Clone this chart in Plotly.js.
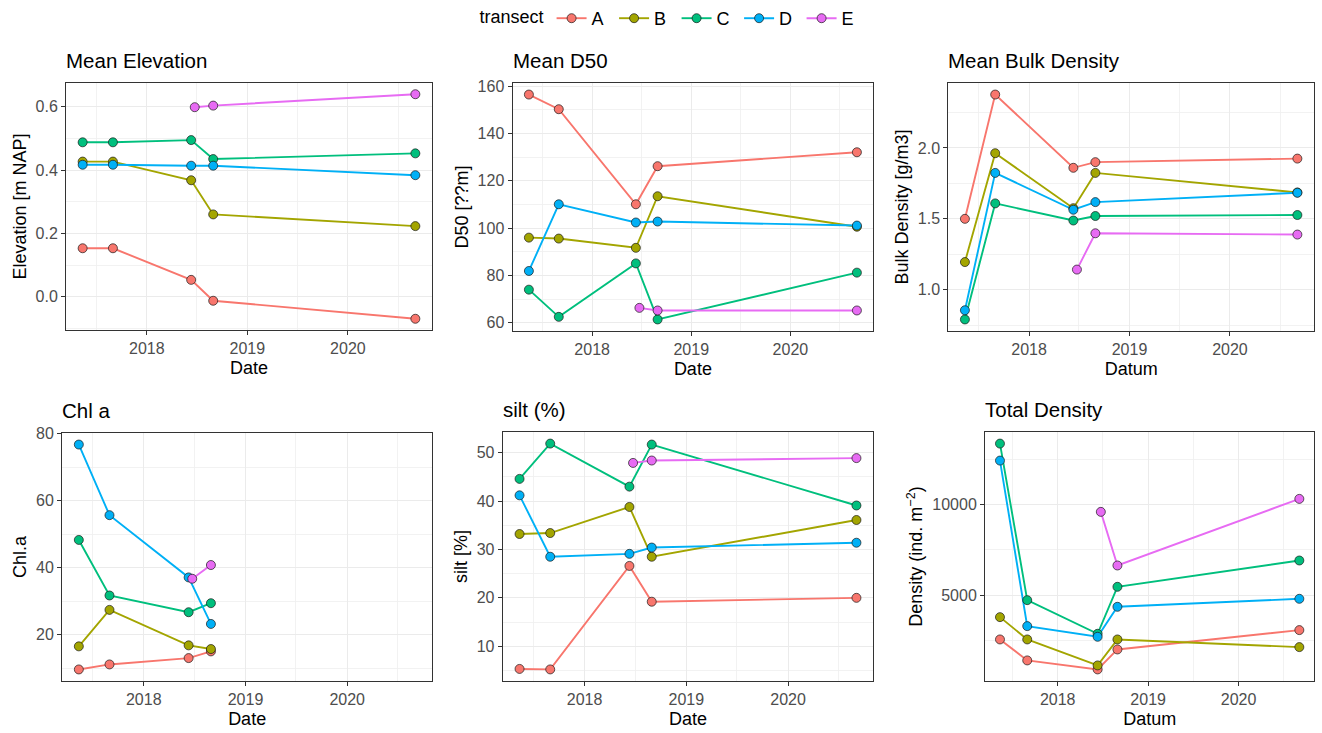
<!DOCTYPE html>
<html>
<head>
<meta charset="utf-8">
<script src="https://cdn.plot.ly/plotly-3.0.1.min.js"></script>
<style>
  html, body { margin: 0; padding: 0; background: #ffffff; }
  #chart { width: 1322px; height: 733px; }
</style>
</head>
<body>
<div id="chart"></div>
<script>
// Transects and their colours
const transects = ['A', 'B', 'C', 'D', 'E'];
const colours = ['#F8766D', '#A3A500', '#00BF7D', '#00B0F6', '#E76BF3'];

// Survey dates (transect E was first sampled later)
const surveyDates  = ['2017-05-13', '2017-08-31', '2018-06-11', '2018-08-30', '2020-09-02'];
const surveyDatesE = ['2018-06-24', '2018-08-30', '2020-09-02'];

// Mean elevation [m NAP]
const elevA = [0.153, 0.153, 0.053, -0.013, -0.070];
const elevB = [0.427, 0.427, 0.368, 0.260, 0.223];
const elevC = [0.488, 0.488, 0.495, 0.435, 0.453];
const elevD = [0.417, 0.417, 0.414, 0.414, 0.384];
const elevE = [0.599, 0.604, 0.640];

// Mean D50
const d50A = [156.5, 150.3, 110.1, 126.2, 132.1];
const d50B = [96.0, 95.6, 91.7, 113.5, 100.6];
const d50C = [74.0, 62.5, 85.1, 61.4, 81.2];
const d50D = [81.9, 110.1, 102.4, 102.8, 101.1];
const d50E = [66.3, 65.2, 65.2];

// Mean bulk density [g/m3]
const bulkA = [1.50, 2.377, 1.86, 1.90, 1.925];
const bulkB = [1.195, 1.963, 1.575, 1.824, 1.686];
const bulkC = [0.79, 1.609, 1.488, 1.52, 1.527];
const bulkD = [0.855, 1.824, 1.564, 1.618, 1.684];
const bulkE = [1.142, 1.398, 1.389];

// Chlorophyll a
const chlA = [9.6, 11.1, 13.0, 15.0];
const chlB = [16.5, 27.4, 16.8, 15.7];
const chlC = [48.3, 31.7, 26.7, 29.4];
const chlD = [76.8, 55.7, 37.1, 23.2];
const chlE = [36.7, 40.8];

// Silt [%]
const siltA = [5.3, 5.2, 26.6, 19.2, 20.0];
const siltB = [33.2, 33.4, 38.8, 28.5, 36.1];
const siltC = [44.6, 51.9, 43.0, 51.7, 39.1];
const siltD = [41.2, 28.5, 29.1, 30.4, 31.4];
const siltE = [47.9, 48.4, 48.9];

// Total macrofauna density [ind. m-2]
const densA = [2556, 1398, 902, 2004, 3071];
const densB = [3787, 2556, 1122, 2556, 2133];
const densC = [13363, 4724, 2868, 5460, 6912];
const densD = [12426, 3291, 2703, 4357, 4798];
const densE = [9596, 6637, 10312];

// Panel setup: pixel boxes of each plotting area on the 1322 x 733 page
const W = 1322, H = 733;
const panels = [
  { title: 'Mean Elevation', xTitle: 'Date', yTitle: 'Elevation [m NAP]',
    series: [elevA, elevB, elevC, elevD, elevE], dtick: 0.2, fmt: '.1f',
    box: [66, 432, 83, 330] },
  { title: 'Mean D50', xTitle: 'Date', yTitle: 'D50 [??m]',
    series: [d50A, d50B, d50C, d50D, d50E], dtick: 20, fmt: 'd',
    box: [512.5, 873.3, 83.3, 330.7] },
  { title: 'Mean Bulk Density', xTitle: 'Datum', yTitle: 'Bulk Density [g/m3]',
    series: [bulkA, bulkB, bulkC, bulkD, bulkE], dtick: 0.5, fmt: '.1f',
    box: [948.3, 1314, 83.3, 330.7] },
  { title: 'Chl a', xTitle: 'Date', yTitle: 'Chl.a',
    series: [chlA, chlB, chlC, chlD, chlE], dtick: 20, fmt: 'd',
    box: [62, 432.3, 433.3, 680.7] },
  { title: 'silt (%)', xTitle: 'Date', yTitle: 'silt [%]',
    series: [siltA, siltB, siltC, siltD, siltE], dtick: 10, fmt: 'd',
    box: [502.7, 873.3, 432.3, 680.7] },
  { title: 'Total Density', xTitle: 'Datum', yTitle: 'Density (ind. m<sup>\u22122</sup>)',
    series: [densA, densB, densC, densD, densE], dtick: 5000, fmt: 'd',
    box: [985, 1314.3, 432.3, 680.7] }
];

// Shared date range with 5% padding on both sides
function toMs(d) { return Date.parse(d); }
function msToStr(ms) { return new Date(ms).toISOString().replace('T', ' ').replace('Z', ''); }
const allMs = surveyDates.concat(surveyDatesE).map(toMs);
const xMin = Math.min(...allMs), xMax = Math.max(...allMs);
const xPad = (xMax - xMin) * 0.05;
const xRange = [msToStr(xMin - xPad), msToStr(xMax + xPad)];

const family = 'Liberation Sans, Arial, sans-serif';
const tickFont = { family: family, size: 16, color: '#4D4D4D' };
const titleFont = { family: family, size: 18, color: '#000000' };

const lineTraces = [];
const pointTraces = [];
const layout = {
  width: W, height: H,
  margin: { l: 0, r: 0, t: 0, b: 0 },
  paper_bgcolor: '#ffffff',
  plot_bgcolor: '#ffffff',
  showlegend: true,
  legend: {
    orientation: 'h', x: 0.5076, xanchor: 'center', y: 1.0, yanchor: 'top',
    font: { family: family, size: 18, color: '#000000' },
    title: { text: 'transect', side: 'left', font: { family: family, size: 18, color: '#000000' } },
    itemwidth: 30, tracegroupgap: 0, entrywidth: 17.5, entrywidthmode: 'pixels'
  },
  annotations: []
};

panels.forEach((p, k) => {
  const n = k + 1;
  const xa = n === 1 ? 'x' : 'x' + n;
  const ya = n === 1 ? 'y' : 'y' + n;

  const vals = [].concat(...p.series);
  const yMin = Math.min(...vals), yMax = Math.max(...vals);
  const yPad = (yMax - yMin) * 0.05;

  const [x0, x1, y0, y1] = p.box;
  const axisCommon = {
    showline: true, mirror: true, linecolor: '#333333', linewidth: 1,
    ticks: 'outside', ticklen: 4, tickcolor: '#333333', tickwidth: 1,
    showgrid: true, gridcolor: '#EBEBEB', gridwidth: 1,
    zeroline: false, tickfont: tickFont, automargin: false
  };

  layout['xaxis' + (n === 1 ? '' : n)] = Object.assign({}, axisCommon, {
    type: 'date', anchor: ya, domain: [x0 / W, x1 / W], range: xRange,
    dtick: 'M12', tick0: '2018-01-01', tickformat: '%Y',
    minor: { dtick: 'M6', tick0: '2018-01-01', showgrid: true, gridcolor: '#EFEFEF', gridwidth: 0.8, ticks: '' },
    title: { text: p.xTitle, font: titleFont, standoff: 5 }
  });
  layout['yaxis' + (n === 1 ? '' : n)] = Object.assign({}, axisCommon, {
    anchor: xa, domain: [1 - y1 / H, 1 - y0 / H], range: [yMin - yPad, yMax + yPad],
    dtick: p.dtick, tickformat: p.fmt,
    minor: { dtick: p.dtick / 2, showgrid: true, gridcolor: '#EFEFEF', gridwidth: 0.8, ticks: '' },
    title: { text: p.yTitle, font: titleFont, standoff: 4 }
  });

  layout.annotations.push({
    text: p.title, showarrow: false,
    xref: xa + ' domain', yref: ya + ' domain', x: 0, y: 1,
    xanchor: 'left', yanchor: 'bottom', yshift: 9, xshift: -2,
    font: { family: family, size: 20.5, color: '#000000' }
  });

  p.series.forEach((values, i) => {
    const dates = (i === 4 ? surveyDatesE : surveyDates).slice(0, values.length);
    lineTraces.push({
      type: 'scatter', mode: 'lines', x: dates, y: values, xaxis: xa, yaxis: ya,
      line: { color: colours[i], width: 1.9 }, showlegend: false, hoverinfo: 'skip',
      legendgroup: transects[i]
    });
    pointTraces.push({
      type: 'scatter', mode: 'markers', x: dates, y: values, xaxis: xa, yaxis: ya,
      marker: { color: colours[i], size: 9, line: { color: '#1a1a1a', width: 0.7 } },
      showlegend: false, name: transects[i], legendgroup: transects[i]
    });
  });
});

// Legend keys: line with a point, one per transect
const legendTraces = transects.map((t, i) => ({
  type: 'scatter', mode: 'lines+markers', x: [null], y: [null], xaxis: 'x', yaxis: 'y',
  name: t, legendgroup: t, showlegend: true,
  line: { color: colours[i], width: 1.9 },
  marker: { color: colours[i], size: 9, line: { color: '#1a1a1a', width: 0.7 } }
}));

Plotly.newPlot('chart', lineTraces.concat(pointTraces, legendTraces), layout,
  { displayModeBar: false, staticPlot: true });
</script>
</body>
</html>
